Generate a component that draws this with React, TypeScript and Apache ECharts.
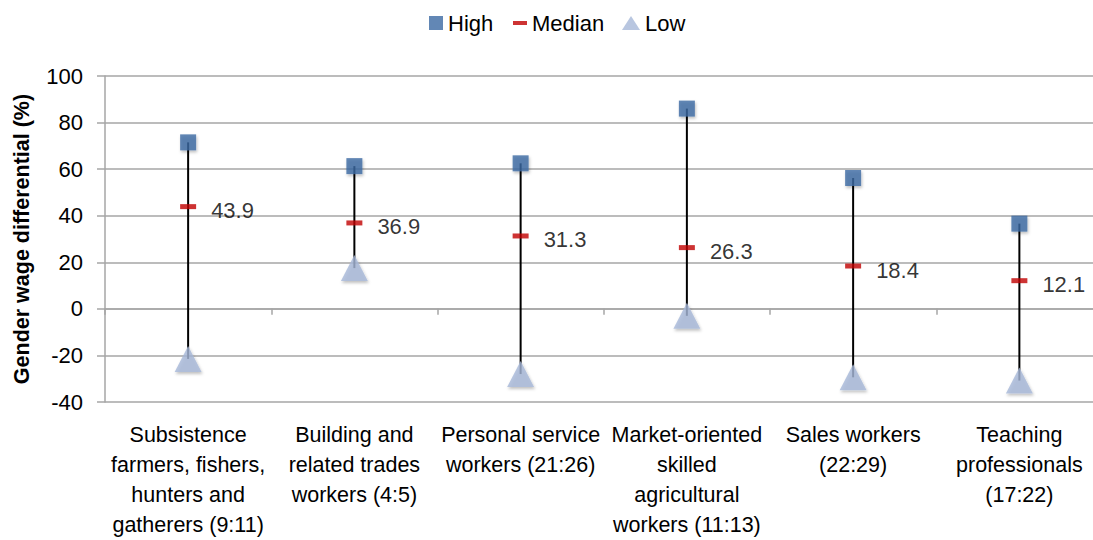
import React, { useEffect, useRef } from "react";
import * as echarts from "echarts";

const categories = [
  "Subsistence\nfarmers, fishers,\nhunters and\ngatherers (9:11)",
  "Building and\nrelated trades\nworkers (4:5)",
  "Personal service\nworkers (21:26)",
  "Market-oriented\nskilled\nagricultural\nworkers (11:13)",
  "Sales workers\n(22:29)",
  "Teaching\nprofessionals\n(17:22)",
];
const highValues = [71.5, 61.3, 62.5, 86, 56.2, 36.6];
const medianValues = [43.9, 36.9, 31.3, 26.3, 18.4, 12.1];
const lowValues = [-21.5, 17.5, -28, -3, -29.4, -30.8];
const yTicks = { min: -40, max: 100, interval: 20 };

const FONT = "'Liberation Sans', Arial, sans-serif";
const BLUE = "#3b69a3";
const RED = "#c00000";
const LIGHT = "#a6b8d8";
const GRID = "#a6a6a6";
const shadow = {
  shadowBlur: 3,
  shadowOffsetX: 1,
  shadowOffsetY: 2,
  shadowColor: "rgba(0,0,0,0.3)",
};

export default function App() {
  const ref = useRef<HTMLDivElement>(null);
  useEffect(() => {
    if (!ref.current) return;
    document.documentElement.style.overflow = "hidden";
    document.body.style.overflow = "hidden";
    const chart = echarts.init(ref.current, undefined, { renderer: "svg" });
    const rangeData = categories.map((_, i) => [i, highValues[i], lowValues[i]]);
    const legendText = { fontSize: 22, color: "#000", fontFamily: FONT };
    chart.setOption({
      animation: false,
      backgroundColor: "#fff",
      textStyle: { fontFamily: FONT },
      legend: [
        {
          data: [{ name: "High", icon: "rect" }],
          left: 424,
          top: 7,
          itemWidth: 14,
          itemHeight: 14,
          itemGap: 6,
          textStyle: legendText,
        },
        {
          data: [{ name: "Median", icon: "rect" }],
          left: 508,
          top: 7,
          itemWidth: 14,
          itemHeight: 4,
          textStyle: legendText,
        },
        {
          data: [{ name: "Low", icon: "triangle" }],
          left: 617,
          top: 7,
          itemWidth: 18,
          itemHeight: 14,
          textStyle: legendText,
        },
      ],
      grid: { left: 105, right: 7.5, top: 76, bottom: 136, containLabel: false },
      xAxis: [
        {
          type: "category",
          data: categories,
          boundaryGap: true,
          axisLine: { show: true, onZero: true, lineStyle: { color: GRID, width: 1.5 } },
          axisTick: { show: true, length: 6, lineStyle: { color: GRID, width: 1.5 } },
          axisLabel: { show: false },
          splitLine: { show: false },
        },
        {
          type: "category",
          data: categories,
          position: "bottom",
          boundaryGap: true,
          axisLine: { show: false, onZero: false },
          axisTick: { show: false },
          axisLabel: {
            interval: 0,
            margin: 18,
            fontSize: 21.5,
            lineHeight: 30,
            color: "#000",
            fontFamily: FONT,
          },
        },
      ],
      yAxis: {
        type: "value",
        min: yTicks.min,
        max: yTicks.max,
        interval: yTicks.interval,
        name: "Gender wage differential (%)",
        nameLocation: "middle",
        nameGap: 72,
        nameTextStyle: { fontSize: 21.5, fontWeight: "bold", color: "#000", fontFamily: FONT },
        axisLine: { show: true, lineStyle: { color: GRID, width: 1.5 } },
        axisTick: { show: true, length: 8, lineStyle: { color: GRID, width: 1.5 } },
        axisLabel: { fontSize: 22, color: "#000", margin: 22, fontFamily: FONT },
        splitLine: { show: true, lineStyle: { color: GRID, width: 1.5 } },
      },
      series: [
        {
          type: "custom",
          name: "range",
          xAxisIndex: 0,
          data: rangeData,
          encode: { x: 0, y: [1, 2] },
          z: 1,
          renderItem: (_params: any, api: any) => {
            const top = api.coord([api.value(0), api.value(1)]);
            const bot = api.coord([api.value(0), api.value(2)]);
            return {
              type: "line",
              shape: { x1: top[0], y1: top[1], x2: bot[0], y2: bot[1] },
              style: { stroke: "#000", lineWidth: 2 },
            };
          },
        },
        {
          type: "scatter",
          name: "High",
          xAxisIndex: 0,
          data: highValues,
          symbol: "rect",
          symbolSize: 16,
          itemStyle: { color: BLUE, ...shadow },
          z: 3,
        },
        {
          type: "scatter",
          name: "Median",
          xAxisIndex: 0,
          data: medianValues,
          symbol: "rect",
          symbolSize: [16, 5],
          itemStyle: { color: RED },
          label: {
            show: true,
            position: "right",
            distance: 15,
            offset: [0, 4],
            fontSize: 22,
            color: "#000",
            fontFamily: FONT,
            formatter: (p: any) => p.value.toFixed(1),
          },
          z: 4,
        },
        {
          type: "scatter",
          name: "Low",
          xAxisIndex: 0,
          data: lowValues,
          symbol: "triangle",
          symbolSize: [27, 26],
          itemStyle: { color: LIGHT, ...shadow },
          z: 3,
        },
      ],
    });
    return () => chart.dispose();
  }, []);
  return (
    <div
      ref={ref}
      style={{ position: "absolute", left: 0, top: 0, width: 1110, height: 540 }}
    />
  );
}
